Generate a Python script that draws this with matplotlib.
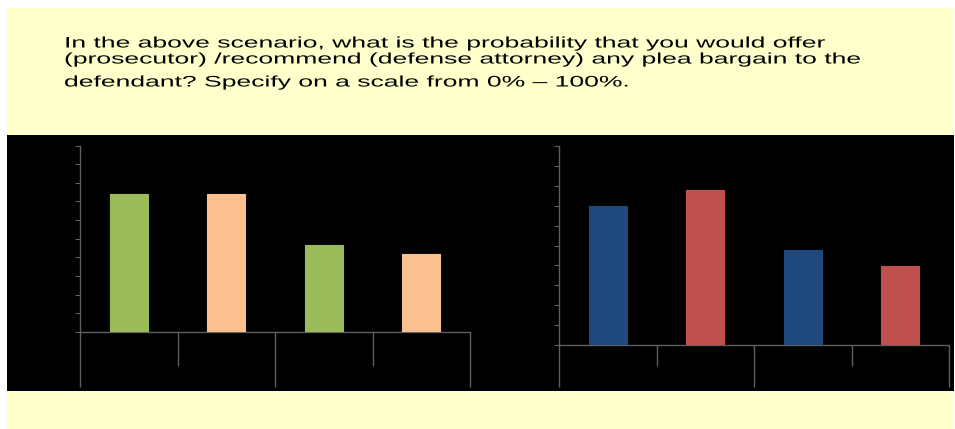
import matplotlib
matplotlib.use("Agg")
import matplotlib.pyplot as plt
from matplotlib.patches import Rectangle
from matplotlib.patheffects import AbstractPathEffect
from matplotlib.transforms import Affine2D

# chart values (percent)
categories = ["A1", "A2", "B1", "B2"]
left_values = [73.9, 73.9, 46.8, 41.8]
left_colors = ["#9BBB59", "#FAC090", "#9BBB59", "#FAC090"]
right_values = [69.8, 77.8, 47.7, 39.9]
right_colors = ["#1F497D", "#C0504D", "#1F497D", "#C0504D"]
y_ticks = list(range(0, 101, 10))

title_lines = [
    "In the above scenario, what is the probability that you would offer",
    "(prosecutor) /recommend (defense attorney) any plea bargain to the",
    "defendant? Specify on a scale from 0% \u2013 100%.",
]

W, H = 955, 429
AXIS_COLOR = "#5f5f5f"
TEXT_X = 64


class StretchX(AbstractPathEffect):
    """Draw the text glyphs stretched horizontally around a pivot x (pixels)."""

    def __init__(self, sx, x0):
        super().__init__()
        self.sx = sx
        self.x0 = x0

    def draw_path(self, renderer, gc, tpath, affine, rgbFace=None):
        stretch = Affine2D().translate(-self.x0, 0).scale(self.sx, 1).translate(self.x0, 0)
        renderer.draw_path(gc, tpath, affine + stretch, rgbFace)


fig = plt.figure(figsize=(W / 100, H / 100), dpi=100, facecolor="white")


def px_box(x0, y0, x1, y1):
    # pixel box (top-left origin) -> figure fraction rect
    return [x0 / W, 1 - y1 / H, (x1 - x0) / W, (y1 - y0) / H]


# yellow slide background and black band
fig.patches.append(Rectangle((7 / W, 1 - 429 / H), (954 - 7) / W, (429 - 8) / H,
                             transform=fig.transFigure, facecolor="#FFFFCC",
                             edgecolor="none", zorder=-2))
fig.patches.append(Rectangle((7 / W, 1 - 391 / H), (954 - 7) / W, (391 - 135) / H,
                             transform=fig.transFigure, facecolor="black",
                             edgecolor="none", zorder=-1))

baselines = [47.5, 63.5, 86.5]
for line, yb in zip(title_lines, baselines):
    fig.text(TEXT_X / W, 1 - yb / H, line, fontsize=11, family="Liberation Sans",
             color="black", va="baseline", ha="left",
             path_effects=[StretchX(1.735, TEXT_X)])


def bar_chart(rect, values, colors, zero_px, long_end, short_end):
    ax = fig.add_axes(rect)
    ax.set_facecolor("none")
    x = range(len(values))
    ax.bar(x, values, width=0.39, color=colors, edgecolor=colors,
           linewidth=0.8, zorder=3)
    ax.set_xlim(-0.5, len(values) - 0.5)
    ax.set_ylim(0, 100)
    ax.set_yticks(y_ticks)
    ax.set_yticklabels([])
    ax.tick_params(axis="y", direction="out", length=3.6, width=0.8,
                   color=AXIS_COLOR)
    # multi-level category axis: long ticks at group edges, short ticks between
    ax.set_xticks([-0.5, 1.5, 3.5])
    ax.set_xticks([0.5, 2.5], minor=True)
    ax.set_xticklabels([])
    ax.tick_params(axis="x", which="major", direction="out",
                   length=(long_end - zero_px) * 0.72, width=1.0, color=AXIS_COLOR)
    ax.tick_params(axis="x", which="minor", direction="out",
                   length=(short_end - zero_px) * 0.72, width=1.0, color=AXIS_COLOR)
    for side in ["top", "right"]:
        ax.spines[side].set_visible(False)
    for side in ["left", "bottom"]:
        ax.spines[side].set_color(AXIS_COLOR)
        ax.spines[side].set_linewidth(1.0)
    return ax


bar_chart(px_box(80, 145.7, 470, 331.7), left_values, left_colors, 331.7, 387, 366)
bar_chart(px_box(559, 145.7, 949, 345.3), right_values, right_colors, 345.3, 387, 366)

fig.savefig("out.png", dpi=100, facecolor="white")
